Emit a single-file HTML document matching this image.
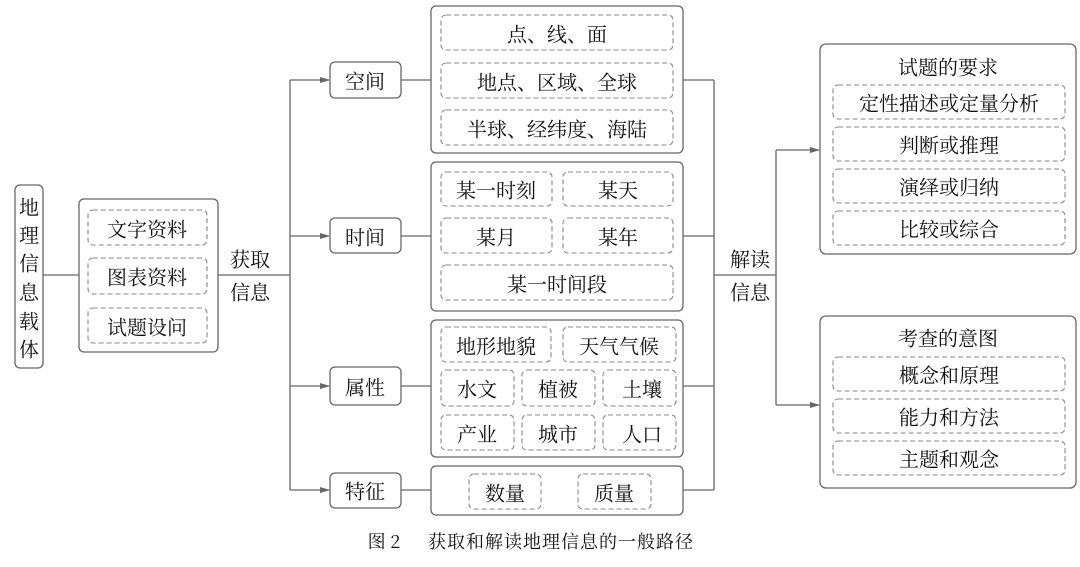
<!DOCTYPE html>
<html><head><meta charset="utf-8"><style>
html,body{margin:0;padding:0;background:#fff}
svg text{font-family:"Noto Serif CJK SC","Noto Serif CJK JP","Liberation Serif",serif;font-size:20px;fill:#111;text-anchor:middle;dominant-baseline:central}
.b{fill:none;stroke:#666;stroke-width:1.3}
.d{fill:none;stroke:#888;stroke-width:1.1;stroke-dasharray:5 3}
.l{stroke:#666;stroke-width:1.3;fill:none}
</style></head><body>
<svg width="1080" height="562" viewBox="0 0 1080 562" xmlns="http://www.w3.org/2000/svg">
<defs><marker id="a" markerWidth="10" markerHeight="6" refX="9" refY="3" orient="auto" markerUnits="userSpaceOnUse"><path d="M0,0 L10,3 L0,6 z" fill="#666"/></marker></defs>
<rect class="b" x="15" y="185" width="28" height="183" rx="5"/>
<text x="29" y="206">地</text><text x="29" y="234">理</text><text x="29" y="262">信</text><text x="29" y="291">息</text><text x="29" y="320">载</text><text x="29" y="348">体</text>
<line class="l" x1="43" y1="275" x2="79" y2="275"/>
<rect class="b" x="79" y="199" width="139" height="153" rx="5"/>
<rect class="d" x="88" y="210" width="119" height="35" rx="5"/><text x="147" y="228">文字资料</text>
<rect class="d" x="88" y="258" width="119" height="36" rx="5"/><text x="147" y="276">图表资料</text>
<rect class="d" x="88" y="308" width="119" height="35" rx="5"/><text x="147" y="326">试题设问</text>
<line class="l" x1="218" y1="275" x2="290" y2="275"/>
<text x="250" y="258">获取</text><text x="250" y="291">信息</text>
<line class="l" x1="290" y1="80" x2="290" y2="490"/>
<line class="l" x1="290" y1="80" x2="329" y2="80" marker-end="url(#a)"/>
<line class="l" x1="290" y1="236" x2="329" y2="236" marker-end="url(#a)"/>
<line class="l" x1="290" y1="386" x2="329" y2="386" marker-end="url(#a)"/>
<line class="l" x1="290" y1="490" x2="329" y2="490" marker-end="url(#a)"/>
<rect class="b" x="330" y="62" width="71" height="36" rx="5"/><text x="365" y="80">空间</text>
<rect class="b" x="330" y="218" width="71" height="35" rx="5"/><text x="365" y="236">时间</text>
<rect class="b" x="330" y="367" width="71" height="38" rx="5"/><text x="365" y="386">属性</text>
<rect class="b" x="330" y="473" width="71" height="35" rx="5"/><text x="365" y="490">特征</text>
<line class="l" x1="401" y1="80" x2="431" y2="80"/>
<line class="l" x1="401" y1="236" x2="431" y2="236"/>
<line class="l" x1="401" y1="386" x2="431" y2="386"/>
<line class="l" x1="401" y1="490" x2="431" y2="490"/>
<rect class="b" x="431" y="6" width="252" height="147" rx="5"/>
<rect class="d" x="441" y="15" width="232" height="35" rx="5"/><text x="557" y="33">点、线、面</text>
<rect class="d" x="441" y="63" width="232" height="35" rx="5"/><text x="557" y="81">地点、区域、全球</text>
<rect class="d" x="441" y="110" width="232" height="35" rx="5"/><text x="557" y="128">半球、经纬度、海陆</text>
<rect class="b" x="431" y="162" width="252" height="149" rx="5"/>
<rect class="d" x="441" y="172" width="111" height="34" rx="5"/><text x="496" y="189">某一时刻</text>
<rect class="d" x="563" y="172" width="110" height="34" rx="5"/><text x="618" y="189">某天</text>
<rect class="d" x="441" y="218" width="111" height="35" rx="5"/><text x="496" y="236">某月</text>
<rect class="d" x="563" y="218" width="110" height="35" rx="5"/><text x="618" y="236">某年</text>
<rect class="d" x="441" y="265" width="232" height="35" rx="5"/><text x="557" y="283">某一时间段</text>
<rect class="b" x="431" y="320" width="252" height="137" rx="5"/>
<rect class="d" x="441" y="327" width="110" height="35" rx="5"/><text x="496" y="345">地形地貌</text>
<rect class="d" x="563" y="327" width="113" height="35" rx="5"/><text x="619" y="345">天气气候</text>
<rect class="d" x="441" y="370" width="73" height="36" rx="5"/><text x="477" y="388">水文</text>
<rect class="d" x="522" y="370" width="73" height="36" rx="5"/><text x="558" y="388">植被</text>
<rect class="d" x="603" y="370" width="73" height="36" rx="5"/><text x="642" y="388">土壤</text>
<rect class="d" x="441" y="415" width="73" height="35" rx="5"/><text x="477" y="433">产业</text>
<rect class="d" x="522" y="415" width="73" height="35" rx="5"/><text x="558" y="433">城市</text>
<rect class="d" x="603" y="415" width="73" height="35" rx="5"/><text x="642" y="433">人口</text>
<rect class="b" x="431" y="466" width="252" height="49" rx="5"/>
<rect class="d" x="469" y="474" width="72" height="35" rx="5"/><text x="505" y="492">数量</text>
<rect class="d" x="578" y="474" width="73" height="35" rx="5"/><text x="614" y="492">质量</text>
<line class="l" x1="683" y1="80" x2="714" y2="80"/>
<line class="l" x1="683" y1="236" x2="714" y2="236"/>
<line class="l" x1="683" y1="386" x2="714" y2="386"/>
<line class="l" x1="683" y1="490" x2="714" y2="490"/>
<line class="l" x1="714" y1="80" x2="714" y2="490"/>
<line class="l" x1="714" y1="275" x2="776" y2="275"/>
<text x="750" y="258">解读</text><text x="750" y="291">信息</text>
<line class="l" x1="776" y1="150" x2="776" y2="405"/>
<line class="l" x1="776" y1="150" x2="819" y2="150" marker-end="url(#a)"/>
<line class="l" x1="776" y1="405" x2="819" y2="405" marker-end="url(#a)"/>
<rect class="b" x="820" y="44" width="256" height="210" rx="6"/>
<text x="948" y="66">试题的要求</text>
<rect class="d" x="833" y="85" width="232" height="34" rx="5"/><text x="949" y="102">定性描述或定量分析</text>
<rect class="d" x="833" y="127" width="232" height="34" rx="5"/><text x="949" y="144">判断或推理</text>
<rect class="d" x="833" y="169" width="232" height="34" rx="5"/><text x="949" y="186">演绎或归纳</text>
<rect class="d" x="833" y="211" width="232" height="34" rx="5"/><text x="949" y="228">比较或综合</text>
<rect class="b" x="820" y="316" width="256" height="172" rx="6"/>
<text x="948" y="337">考查的意图</text>
<rect class="d" x="833" y="357" width="232" height="34" rx="5"/><text x="949" y="374">概念和原理</text>
<rect class="d" x="833" y="399" width="232" height="34" rx="5"/><text x="949" y="416">能力和方法</text>
<rect class="d" x="833" y="441" width="232" height="34" rx="5"/><text x="949" y="458">主题和观念</text>
<text x="384" y="541" style="font-size:18px">图 2</text>
<text x="561" y="541" style="font-size:18px;letter-spacing:1px">获取和解读地理信息的一般路径</text>
</svg>
</body></html>
